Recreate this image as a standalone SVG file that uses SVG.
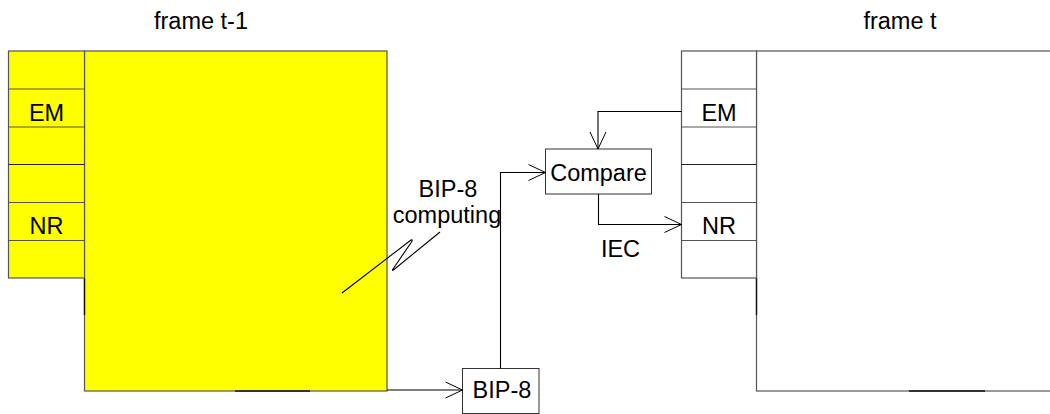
<svg xmlns="http://www.w3.org/2000/svg" width="1050" height="414" viewBox="0 0 1050 414">
  <defs>
    <marker id="arr" markerUnits="userSpaceOnUse" markerWidth="20" markerHeight="20" refX="17" refY="8" orient="auto" overflow="visible">
      <path d="M0,0 L17,8 L0,16" fill="none" stroke="#000" stroke-width="1"/>
    </marker>
    <style>
      .t { font-family: "Liberation Sans", Arial, sans-serif; font-size: 23.5px; fill: #000; text-anchor: middle; }
      .fr { stroke: #555; stroke-width: 1.2; }
      .dk { stroke: #111; stroke-width: 1.4; }
      .mid { stroke: #222; stroke-width: 1.1; }
      .box { fill: #fff; stroke: #333; stroke-width: 1; }
      .c { fill: none; stroke: #000; stroke-width: 1.1; }
    </style>
  </defs>
  <rect width="1050" height="414" fill="#fff"/>

  <g id="frame-t-1">
    <text class="t" x="201" y="29">frame t-1</text>
    <rect x="84.5" y="51" width="302.5" height="340" fill="#ffff00" class="fr"/>
    <line x1="84.5" y1="278" x2="84.5" y2="315" class="dk"/>
    <line x1="235" y1="391" x2="310" y2="391" class="dk"/>
    <g id="left-column">
      <rect x="8.5" y="51" width="76" height="227" fill="#ffff00" class="fr"/>
      <line x1="8.5" y1="89" x2="84.5" y2="89" class="fr"/>
      <line x1="8.5" y1="127" x2="84.5" y2="127" class="fr"/>
      <line x1="8.5" y1="164.5" x2="84.5" y2="164.5" class="mid"/>
      <line x1="8.5" y1="202.5" x2="84.5" y2="202.5" class="fr"/>
      <line x1="8.5" y1="240.5" x2="84.5" y2="240.5" class="fr"/>
      <text class="t" x="46.5" y="121">EM</text>
      <text class="t" x="46.5" y="234">NR</text>
    </g>
  </g>

  <g id="frame-t">
    <text class="t" x="900" y="29">frame t</text>
    <rect x="756.5" y="51" width="310" height="340" fill="#fff" class="fr"/>
    <line x1="756.5" y1="278" x2="756.5" y2="315" class="dk"/>
    <line x1="909" y1="391" x2="985" y2="391" class="dk"/>
    <g id="right-column">
      <rect x="681.5" y="51" width="75" height="227" fill="#fff" class="fr"/>
      <line x1="681.5" y1="89" x2="756.5" y2="89" class="fr"/>
      <line x1="681.5" y1="127" x2="756.5" y2="127" class="fr"/>
      <line x1="681.5" y1="164.5" x2="756.5" y2="164.5" class="mid"/>
      <line x1="681.5" y1="202.5" x2="756.5" y2="202.5" class="fr"/>
      <line x1="681.5" y1="240.5" x2="756.5" y2="240.5" class="fr"/>
      <text class="t" x="719" y="121">EM</text>
      <text class="t" x="719" y="234">NR</text>
    </g>
  </g>

  <g id="compare">
    <rect x="545.5" y="149" width="106" height="45" class="box"/>
    <text class="t" x="598.5" y="181">Compare</text>
  </g>

  <g id="bip8">
    <rect x="462.5" y="368.5" width="76.5" height="45" class="box"/>
    <text class="t" x="502" y="398">BIP-8</text>
  </g>

  <g id="labels">
    <text class="t" x="448" y="197">BIP-8</text>
    <text class="t" x="447" y="223">computing</text>
    <text class="t" x="620.5" y="257">IEC</text>
  </g>

  <g id="connectors">
    <path class="c" d="M387,390 L462.5,390" marker-end="url(#arr)"/>
    <path class="c" d="M500.5,368.5 L500.5,172.5 L545.5,172.5" marker-end="url(#arr)"/>
    <path class="c" d="M681.5,111.5 L598,111.5 L598,149" marker-end="url(#arr)"/>
    <path class="c" d="M598.5,194 L598.5,224.5 L681.5,224.5" marker-end="url(#arr)"/>
    <path class="c" d="M342,293 L411,240 Q413,239 411.5,242 L393,269 Q391.5,271.5 394,269.5 L440,232"/>
  </g>
</svg>
